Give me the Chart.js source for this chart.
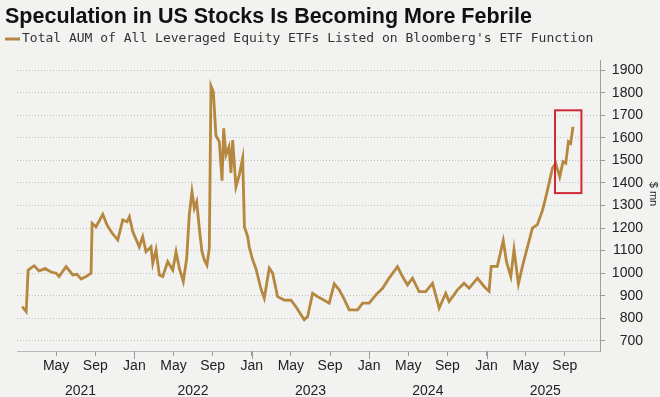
<!DOCTYPE html>
<html>
<head>
<meta charset="utf-8">
<title>Speculation in US Stocks Is Becoming More Febrile</title>
<script src="https://cdn.jsdelivr.net/npm/chart.js@4.4.1/dist/chart.umd.min.js"></script>
<style>
  html, body { margin: 0; padding: 0; background: #f2f2f1; }
  canvas { display: block; }
</style>
</head>
<body>
<canvas id="aum-chart" width="660" height="397"></canvas>
<script>
// Months since Jan 2021 (0 = 1 Jan 2021) and total AUM in $ mn
var months = [
  0.53, 0.94, 1.14, 1.75, 2.26, 2.88, 3.49, 4.0, 4.3, 5.02,
  5.7, 6.14, 6.55, 7.06, 7.57, 7.68, 8.08, 8.77, 9.2, 9.72,
  10.3, 10.81, 11.25, 11.49, 11.83, 12.5, 12.85, 13.19, 13.7, 13.88,
  14.21, 14.55, 14.9, 15.41, 15.92, 16.26, 16.59, 17.0, 17.35, 17.61,
  17.89, 18.13, 18.37, 18.64, 18.91, 19.15, 19.42, 19.66, 19.83, 20.07,
  20.34, 20.68, 20.96, 21.13, 21.36, 21.67, 21.87, 22.05, 22.38, 22.72,
  23.07, 23.25, 23.58, 23.74, 24.09, 24.43, 24.94, 25.28, 25.79, 26.13,
  26.64, 27.32, 28.0, 28.5, 29.36, 29.71, 30.22, 30.73, 31.4, 31.92,
  32.43, 32.94, 33.45, 33.96, 34.82, 35.33, 36.0, 36.69, 37.37, 38.04,
  38.9, 39.41, 39.92, 40.43, 41.11, 41.79, 42.48, 43.16, 43.83, 44.17,
  45.03, 45.7, 46.22, 47.07, 47.75, 48.26, 48.48, 49.1, 49.71, 50.04,
  50.48, 50.81, 51.26, 51.67, 52.18, 52.69, 53.2, 53.71, 54.05, 54.39,
  54.73, 55.07, 55.48, 55.82, 56.1, 56.37, 56.6, 56.84
];
var aum = [
  852, 830, 1014, 1033, 1010, 1020, 1005, 1000, 985, 1029,
  992, 995, 974, 985, 1000, 1221, 1206, 1261, 1214, 1178,
  1147, 1236, 1228, 1250, 1184, 1117, 1162, 1095, 1117, 1044,
  1103, 992, 985, 1051, 1014, 1095, 1022, 963, 1066, 1258,
  1361, 1287, 1317, 1199, 1095, 1059, 1036, 1110, 1830, 1804,
  1610, 1583, 1410, 1642, 1524, 1560, 1444, 1590, 1383, 1435,
  1509, 1206, 1162, 1117, 1059, 1020, 930, 889, 1022, 1000,
  896, 881, 880, 852, 793, 808, 911, 896, 880, 867,
  953, 926, 885, 837, 837, 867, 867, 904, 933, 978,
  1029, 985, 948, 978, 918, 918, 955, 845, 911, 874,
  926, 955, 933, 978, 941, 920, 1030, 1030, 1145, 1051,
  985, 1105, 952, 1030, 1115, 1200, 1215, 1277, 1335, 1398,
  1465, 1487, 1427, 1494, 1487, 1583, 1575, 1649
];

var tickMonths = [4, 8, 12, 16, 20, 24, 28, 32, 36, 40, 44, 48, 52, 56];
var tickLabels = ['May', 'Sep', 'Jan', 'May', 'Sep', 'Jan', 'May', 'Sep',
  'Jan', 'May', 'Sep', 'Jan', 'May', 'Sep'];
var yearMonths = [6.5, 18, 30, 42, 54];
var yearLabels = ['2021', '2022', '2023', '2024', '2025'];
var yTicks = [700, 800, 900, 1000, 1100, 1200, 1300, 1400, 1500, 1600, 1700, 1800, 1900];

// Red highlight box (data coordinates)
var boxMonths = [55.0, 57.7];
var boxAum = [1355, 1722];

(function () {
  'use strict';

  var LINE_COLOR = '#b5873f';
  var TEXT_COLOR = '#222';
  var TITLE = 'Speculation in US Stocks Is Becoming More Febrile';
  var LEGEND = 'Total AUM of All Leveraged Equity ETFs Listed on Bloomberg\'s ETF Function';
  var UNIT = '$ mn';
  var SANS = '"Liberation Sans", Arial, sans-serif';

  // -- Title, legend and unit label, drawn around the plot --
  var headerPlugin = {
    id: 'header',
    afterDraw: function (chart) {
      var ctx = chart.ctx;
      ctx.save();
      ctx.fillStyle = '#111';
      ctx.textBaseline = 'alphabetic';
      ctx.font = 'bold 21.5px ' + SANS;
      ctx.fillText(TITLE, 5, 23);

      ctx.strokeStyle = LINE_COLOR;
      ctx.lineWidth = 3;
      ctx.beginPath();
      ctx.moveTo(5, 39);
      ctx.lineTo(20, 39);
      ctx.stroke();

      ctx.fillStyle = '#333';
      ctx.textBaseline = 'middle';
      ctx.font = '13px "DejaVu Sans Mono", monospace';
      ctx.fillText(LEGEND, 22, 39);

      // unit label, rotated to read top to bottom
      ctx.translate(653, 194);
      ctx.rotate(Math.PI / 2);
      ctx.textAlign = 'center';
      ctx.fillStyle = TEXT_COLOR;
      ctx.font = '11px ' + SANS;
      ctx.fillText(UNIT, 0, 0);
      ctx.restore();
    }
  };

  // -- Longer tick marks at each January --
  var janTickPlugin = {
    id: 'janTicks',
    afterDraw: function (chart) {
      var xs = chart.scales.x;
      var ctx = chart.ctx;
      var bottom = chart.chartArea.bottom;
      ctx.save();
      ctx.strokeStyle = '#9a9a9a';
      ctx.lineWidth = 1;
      for (var i = 0; i < tickMonths.length; i++) {
        if (tickMonths[i] % 12 !== 0) {
          continue;
        }
        var px = Math.round(xs.getPixelForValue(tickMonths[i])) + 0.5;
        ctx.beginPath();
        ctx.moveTo(px, bottom);
        ctx.lineTo(px, bottom + 8);
        ctx.stroke();
      }
      ctx.restore();
    }
  };

  // -- Red highlight box around the latest run-up --
  var highlightPlugin = {
    id: 'highlightBox',
    afterDatasetsDraw: function (chart) {
      var xs = chart.scales.x;
      var ys = chart.scales.y;
      var x1 = xs.getPixelForValue(boxMonths[0]);
      var x2 = xs.getPixelForValue(boxMonths[1]);
      var y1 = ys.getPixelForValue(boxAum[1]);
      var y2 = ys.getPixelForValue(boxAum[0]);
      var ctx = chart.ctx;
      ctx.save();
      ctx.strokeStyle = '#cf2836';
      ctx.lineWidth = 2;
      ctx.strokeRect(x1, y1, x2 - x1, y2 - y1);
      ctx.restore();
    }
  };

  var points = [];
  for (var i = 0; i < months.length; i++) {
    points.push({ x: months[i], y: aum[i] });
  }

  new Chart(document.getElementById('aum-chart').getContext('2d'), {
    type: 'line',
    data: {
      datasets: [{
        label: LEGEND,
        data: points,
        borderColor: LINE_COLOR,
        borderWidth: 2.8,
        pointRadius: 0,
        tension: 0,
        fill: false
      }]
    },
    options: {
      responsive: false,
      animation: false,
      layout: {
        padding: { top: 60, left: 17, right: 17, bottom: 0 }
      },
      plugins: {
        legend: { display: false },
        title: { display: false },
        tooltip: { enabled: false }
      },
      scales: {
        x: {
          type: 'linear',
          position: 'bottom',
          min: 0,
          max: 59.6,
          afterBuildTicks: function (axis) {
            axis.ticks = tickMonths.map(function (v) { return { value: v }; });
          },
          afterFit: function (axis) { axis.height = 24; },
          grid: {
            drawOnChartArea: false,
            drawTicks: true,
            tickLength: 5,
            tickColor: '#9a9a9a'
          },
          border: { display: true, color: '#b8b8b8', width: 1 },
          ticks: {
            autoSkip: false,
            maxRotation: 0,
            padding: 2,
            color: TEXT_COLOR,
            font: { family: SANS, size: 14 },
            callback: function (value, index) { return tickLabels[index]; }
          }
        },
        xYear: {
          type: 'linear',
          position: 'bottom',
          min: 0,
          max: 59.6,
          afterBuildTicks: function (axis) {
            axis.ticks = yearMonths.map(function (v) { return { value: v }; });
          },
          afterFit: function (axis) { axis.height = 22; },
          grid: { display: false },
          border: { display: false },
          ticks: {
            autoSkip: false,
            maxRotation: 0,
            padding: 0,
            color: TEXT_COLOR,
            font: { family: SANS, size: 14 },
            callback: function (value, index) { return yearLabels[index]; }
          }
        },
        y: {
          type: 'linear',
          position: 'right',
          min: 655,
          max: 1945,
          afterBuildTicks: function (axis) {
            axis.ticks = yTicks.map(function (v) { return { value: v }; });
          },
          afterFit: function (axis) { axis.width = 43; },
          grid: {
            color: '#c2c2c2',
            lineWidth: 1,
            drawTicks: true,
            tickLength: 5,
            tickColor: '#9a9a9a'
          },
          border: { display: true, color: '#a0a0a0', width: 1, dash: [1, 2] },
          ticks: {
            padding: 8,
            crossAlign: 'far',
            color: TEXT_COLOR,
            font: { family: SANS, size: 14 },
            callback: function (value) { return String(value); }
          }
        }
      }
    },
    plugins: [headerPlugin, janTickPlugin, highlightPlugin]
  });
})();
</script>
</body>
</html>
